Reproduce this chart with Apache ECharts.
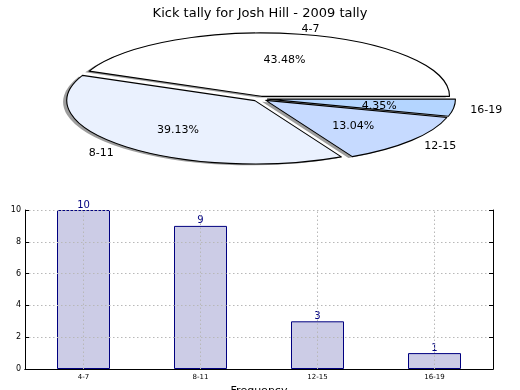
<!DOCTYPE html>
<html>
<head>
<meta charset="utf-8">
<script src="https://cdn.jsdelivr.net/npm/echarts@6/dist/echarts.min.js"></script>
<style>
  html, body { margin: 0; padding: 0; background: #ffffff; }
  #wrap { position: relative; width: 520px; height: 390px; overflow: hidden; }
  #pie { position: absolute; left: 0; top: 0; width: 520px; height: 390px; }
  #main { position: absolute; left: 0; top: 0; width: 520px; height: 390px; }
</style>
</head>
<body>
<div id="wrap">
  <div id="pie"></div>
  <div id="main"></div>
</div>
<script>
// ---- data ----
const titleText = 'Kick tally for Josh Hill - 2009 tally';
const categories = ['4-7', '8-11', '12-15', '16-19'];
const counts = [10, 9, 3, 1];
const sliceColors = ['#ffffff', '#eaf1fe', '#c6daff', '#b4d5ff'];
const yTicks = [0, 2, 4, 6, 8, 10];
const yAxisTitle = 'Stat Intervals';
const xAxisTitle = 'Frequency';

// ---- layout ----
const FONT = 'DejaVu Sans';
const R = 188;          // pie radius (horizontal, px)
const SY = 0.337;       // vertical squash of the pie
const PIE_CX = 260;     // page x of pie centre
const PIE_CY_LOCAL = 200;
const PIE_TOP = 31.4;
const PIE_CY = PIE_TOP + PIE_CY_LOCAL * SY;
const EXPLODE = 7.5;
const SHADOW = 3.8;

const total = counts.reduce((a, b) => a + b, 0);

function pieSeries(isShadow) {
  return {
    type: 'pie',
    center: isShadow ? [PIE_CX - SHADOW, PIE_CY_LOCAL + SHADOW] : [PIE_CX, PIE_CY_LOCAL],
    radius: [0, R],
    startAngle: 0,
    clockwise: false,
    selectedMode: 'multiple',
    selectedOffset: EXPLODE,
    silent: true,
    label: { show: false },
    labelLine: { show: false },
    emphasis: { disabled: true, scale: false },
    z: isShadow ? 1 : 2,
    itemStyle: isShadow
      ? { color: 'rgba(60,60,60,0.5)', borderWidth: 0 }
      : { borderColor: '#000000', borderWidth: 1.1 },
    data: categories.map((c, i) => {
      const col = isShadow ? 'rgba(60,60,60,0.5)' : sliceColors[i];
      return {
        name: c, value: counts[i], selected: true,
        itemStyle: { color: col },
        select: { itemStyle: isShadow
          ? { color: col, borderWidth: 0 }
          : { color: col, borderColor: '#000000', borderWidth: 1.1 } }
      };
    })
  };
}

// ---- pie (SVG, squashed vertically inside the svg so strokes stay even) ----
const pieChart = echarts.init(document.getElementById('pie'), null, { renderer: 'svg' });
pieChart.setOption({
  animation: false,
  series: [pieSeries(true), pieSeries(false)]
});
function squashPie() {
  const svg = document.querySelector('#pie svg');
  if (!svg) return false;
  if (svg.querySelector('g[data-squash]')) return true;
  const g = document.createElementNS('http://www.w3.org/2000/svg', 'g');
  g.setAttribute('data-squash', '1');
  g.setAttribute('transform', 'translate(0,' + PIE_TOP + ') scale(1,' + SY + ')');
  Array.from(svg.childNodes).forEach(n => {
    if (n.nodeName && n.nodeName.toLowerCase() !== 'defs') g.appendChild(n);
  });
  svg.appendChild(g);
  g.querySelectorAll('path').forEach(p => p.setAttribute('vector-effect', 'non-scaling-stroke'));
  return true;
}
if (!squashPie()) setTimeout(squashPie, 0);

// ---- pie labels (computed from the data) ----
const graphics = [];
let acc = 0;
counts.forEach((v, i) => {
  const frac = v / total;
  const mid = (acc + frac / 2) * 2 * Math.PI;
  acc += frac;
  const c = Math.cos(mid), s = Math.sin(mid);
  const ox = PIE_CX + EXPLODE * c;
  const oy = PIE_CY - EXPLODE * s * SY + 1.5;
  graphics.push({
    type: 'text', z: 100,
    x: ox + 1.1 * R * c - (c > 0 ? 2 : 0), y: oy - 1.1 * R * SY * s,
    style: { text: categories[i], fill: '#000', font: '11px "' + FONT + '"',
             align: c > 0 ? 'left' : 'right', verticalAlign: 'middle' }
  });
  graphics.push({
    type: 'text', z: 100,
    x: ox + 0.6 * R * c, y: oy - 0.6 * R * SY * s,
    style: { text: (frac * 100).toFixed(2) + '%', fill: '#000', font: '11px "' + FONT + '"',
             align: 'center', verticalAlign: 'middle' }
  });
});

// ---- bar chart + title ----
const grid = { left: 25, top: 210, width: 468, height: 159, containLabel: false, outerBoundsMode: 'none' };
const gridLineStyle = { color: '#b8b8b8', type: [1.5, 2.5], width: 1 };
const main = echarts.init(document.getElementById('main'), null, { renderer: 'canvas' });
main.setOption({
  animation: false,
  backgroundColor: 'transparent',
  textStyle: { fontFamily: FONT },
  title: {
    text: titleText, left: 'center', top: 2,
    textStyle: { fontFamily: FONT, fontSize: 13, fontWeight: 'normal', color: '#000' }
  },
  graphic: graphics,
  grid: grid,
  xAxis: [{
    type: 'category', data: categories, z: 3,
    axisLine: { lineStyle: { color: '#000', width: 1 } },
    axisTick: { inside: true, length: 4, alignWithLabel: true, lineStyle: { color: '#000' } },
    axisLabel: { fontSize: 7, color: '#000', margin: 5, fontFamily: FONT },
    splitLine: { show: false },
    name: xAxisTitle, nameLocation: 'middle', nameGap: 17,
    nameTextStyle: { fontSize: 11, color: '#000', fontFamily: FONT }
  }, {
    type: 'category', data: categories, position: 'top', z: 3,
    axisLine: { lineStyle: { color: '#000', width: 1 } },
    axisTick: { inside: true, length: 4, alignWithLabel: true, lineStyle: { color: '#000' } },
    axisLabel: { show: false }, splitLine: { show: false }
  }],
  yAxis: [{
    type: 'value', min: yTicks[0], max: yTicks[yTicks.length - 1], interval: yTicks[1] - yTicks[0], z: 3,
    axisLine: { show: true, lineStyle: { color: '#000', width: 1 } },
    axisTick: { show: true, inside: true, length: 4, lineStyle: { color: '#000' } },
    axisLabel: { fontSize: 8, color: '#000', margin: 4, fontFamily: FONT },
    splitLine: { show: true, lineStyle: gridLineStyle },
    name: yAxisTitle, nameLocation: 'middle', nameGap: 14,
    nameTextStyle: { fontSize: 11, color: '#000', fontFamily: FONT }
  }, {
    type: 'value', min: yTicks[0], max: yTicks[yTicks.length - 1], interval: yTicks[1] - yTicks[0], position: 'right', z: 3,
    axisLine: { show: true, lineStyle: { color: '#000', width: 1 } },
    axisTick: { show: true, inside: true, length: 4, lineStyle: { color: '#000' } },
    axisLabel: { show: false }, splitLine: { show: false }
  }],
  series: [{
    type: 'bar', data: counts, barWidth: 53,
    itemStyle: { color: '#ccccE6', borderColor: '#000080', borderWidth: 1 },
    label: { show: true, position: 'top', distance: 0, color: '#000080', fontSize: 10, fontFamily: FONT },
    emphasis: { disabled: true },
    markLine: {
      silent: true, symbol: 'none', animation: false,
      label: { show: false },
      lineStyle: gridLineStyle,
      emphasis: { disabled: true },
      data: categories.map(c => ({ xAxis: c }))
    }
  }]
});
</script>
</body>
</html>
